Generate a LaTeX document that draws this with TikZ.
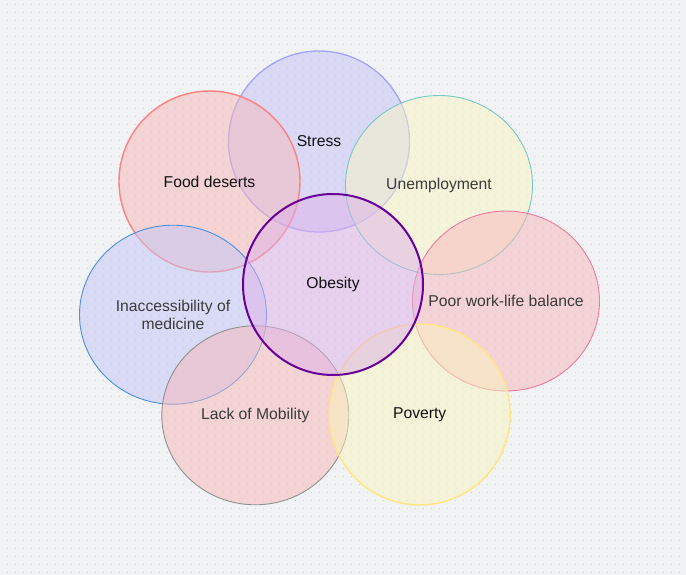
\documentclass[tikz,border=0pt]{standalone}
\usepackage{fontspec}
\setmainfont{Liberation Sans}
\usetikzlibrary{shapes.geometric}
\definecolor{bgc}{HTML}{F1F2F4}
\definecolor{dotc}{HTML}{CFD0D3}
\definecolor{foodf}{RGB}{247,182,184}
\definecolor{foods}{HTML}{FF8080}
\definecolor{stressf}{RGB}{195,194,246}
\definecolor{stresss}{HTML}{A3A3F7}
\definecolor{unempf}{RGB}{249,246,196}
\definecolor{unemps}{HTML}{76C8C8}
\definecolor{poorf}{RGB}{247,182,188}
\definecolor{poors}{HTML}{F0789F}
\definecolor{inaccf}{RGB}{195,198,248}
\definecolor{inaccs}{HTML}{4A8FE0}
\definecolor{mobf}{RGB}{247,182,184}
\definecolor{mobs}{HTML}{909090}
\definecolor{povf}{RGB}{249,244,188}
\definecolor{povs}{HTML}{FFE680}
\definecolor{obf}{RGB}{221,176,232}
\definecolor{obs}{HTML}{660099}
\definecolor{darktxt}{HTML}{111111}
\definecolor{greytxt}{HTML}{3A3A3A}
\tikzset{
  bubble/.style={ellipse, draw, fill opacity=0.5, text opacity=1, inner sep=0pt,
    align=center, font=\fontsize{15.7}{18.4}\selectfont},
  dotline/.style={draw=dotc, line width=1pt, dash pattern=on 1pt off 7pt, dash phase=1pt}
}
\begin{document}
\begin{tikzpicture}[x=1pt,y=-1pt]
\fill[bgc] (0,0) rectangle (686,575);
\useasboundingbox (0,0) rectangle (686,575);
\foreach \yy in {4.5,12.5,...,575}{
  \draw[dotline] (0,\yy) -- (686,\yy);
}
\node[bubble, fill=stressf, draw=stresss, line width=1.3pt, text=darktxt,
  minimum width=181pt, minimum height=181pt] (stress) at (319,141.5) {Stress};
\node[bubble, fill=unempf, draw=unemps, line width=0.9pt, text=greytxt,
  minimum width=187pt, minimum height=179pt] (unemp) at (439,185) {Unemployment};
\node[bubble, fill=foodf, draw=foods, line width=1.4pt, text=darktxt,
  minimum width=181pt, minimum height=181pt] (food) at (209.5,181.5) {Food deserts};
\node[bubble, fill=poorf, draw=poors, line width=0.9pt, text=greytxt,
  minimum width=187pt, minimum height=180pt] (poor) at (506,301) {\makebox[0pt][c]{Poor work-life balance}};
\node[bubble, fill=inaccf, draw=inaccs, line width=0.9pt, text=greytxt,
  minimum width=187pt, minimum height=179pt] (inacc) at (173,314.7) {Inaccessibility of\\medicine};
\node[bubble, fill=mobf, draw=mobs, line width=0.9pt, text=greytxt,
  minimum width=187pt, minimum height=179pt] (mob) at (255.3,415.3) {Lack of Mobility};
\node[bubble, fill=povf, draw=povs, line width=1.4pt, text=darktxt,
  minimum width=181pt, minimum height=181pt] (pov) at (419.7,414.5) {Poverty};
\node[bubble, fill=obf, draw=obs, line width=2pt, text=darktxt,
  minimum width=180pt, minimum height=181pt] (obesity) at (333,284.5) {Obesity};
\end{tikzpicture}
\end{document}
